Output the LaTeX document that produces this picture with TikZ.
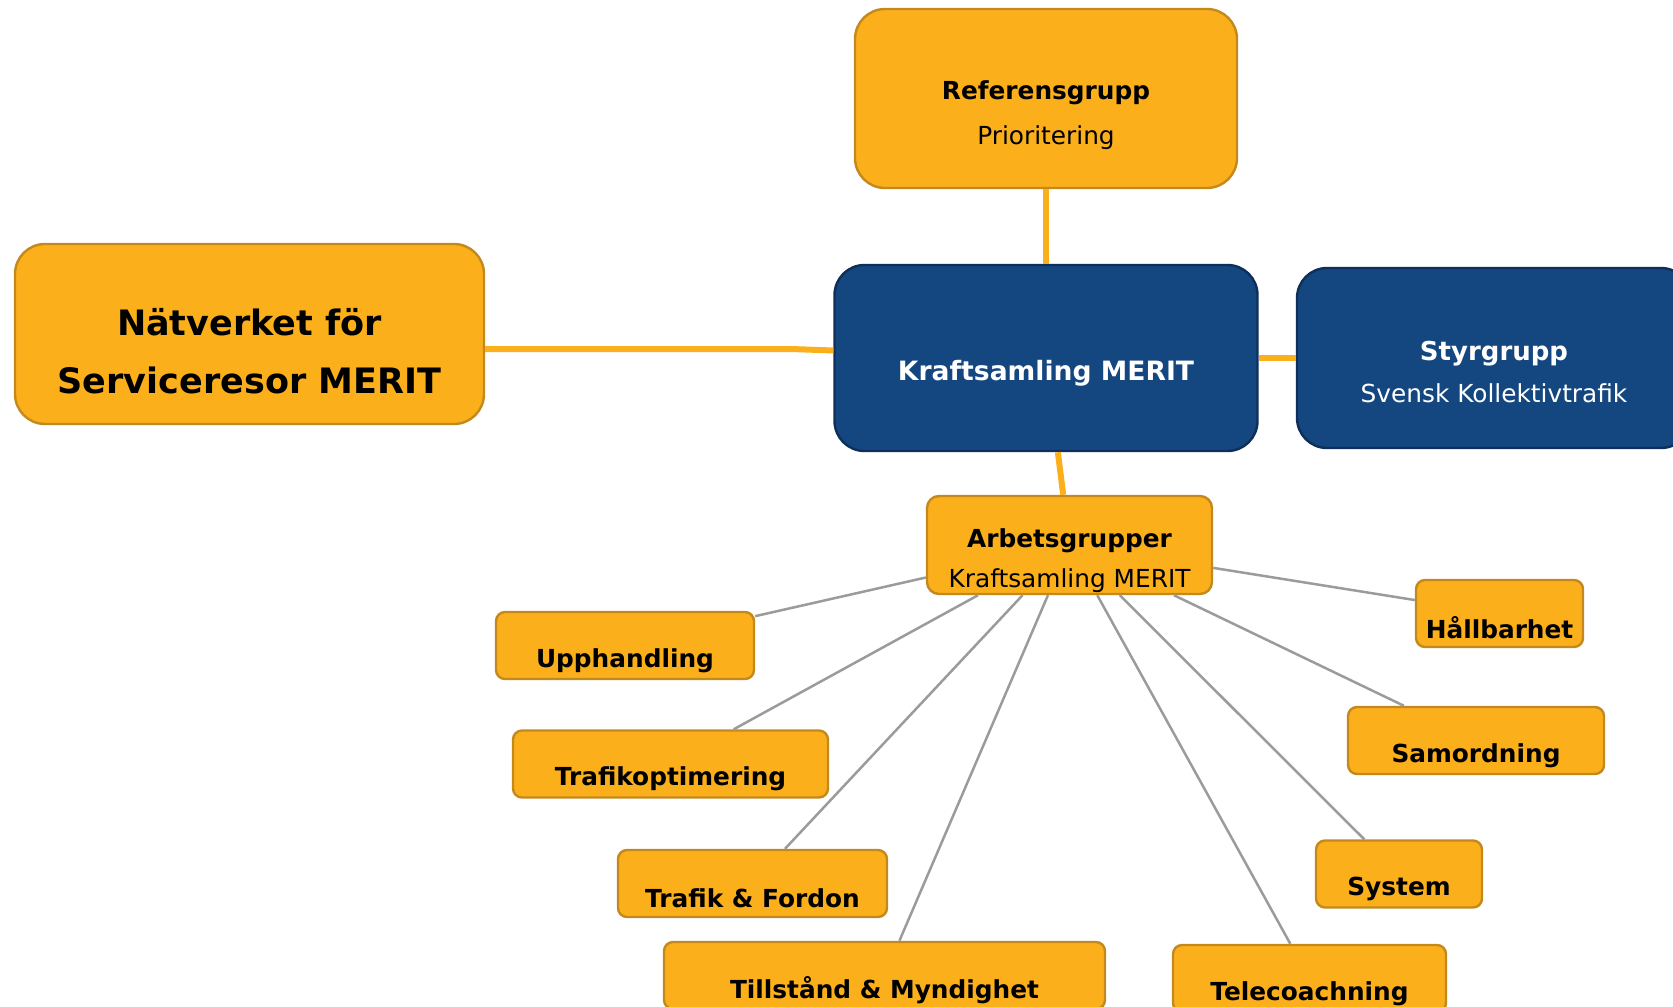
\documentclass[tikz,border=0pt]{standalone}
\usepackage{fontspec}
\setmainfont{DejaVu Sans}
\definecolor{gold}{HTML}{FBAF1A}
\definecolor{golddark}{HTML}{C4891C}
\definecolor{navy}{HTML}{14467F}
\definecolor{navydark}{HTML}{0E2F5A}
\definecolor{linkgray}{HTML}{9B9B9B}

\begin{document}
\begin{tikzpicture}[x=0.5pt,y=-0.5pt,
  goldbox/.style={draw=golddark,fill=gold,line width=1.2pt,rounded corners=4.5pt},
  navybox/.style={draw=navydark,fill=navy,line width=1.2pt,rounded corners=15pt},
  workbox/.style={goldbox,minimum height=33.5pt},
  boxtext/.style={align=center,yshift=-7.5pt,font=\fontsize{12.4}{21}\selectfont},
  worktext/.style={boxtext,font=\fontsize{12.4}{21}\selectfont\bfseries},
  trunk/.style={draw=gold,line width=3pt},
  twig/.style={draw=linkgray,line width=1.25pt}]
  \useasboundingbox (0,0) rectangle (1673,1006);
  % main boxes
  \node[goldbox,rounded corners=15pt,minimum width=191pt,minimum height=89.5pt,
    label={[boxtext,yshift=-1pt,font=\fontsize{12.4}{22.5}\selectfont]center:{\textbf{Referensgrupp}\\Prioritering}}] (ref) at (1046,98.5) {};
  \node[goldbox,rounded corners=15pt,minimum width=234.5pt,minimum height=90pt,
    label={[boxtext,yshift=-1pt,font=\fontsize{17.5}{29}\selectfont\bfseries]center:{Nätverket för\\Serviceresor MERIT}}] (net) at (249.5,334) {};
  \node[navybox,minimum width=211.5pt,minimum height=93pt,
    label={[boxtext,text=white,font=\fontsize{13.3}{21}\selectfont\bfseries]center:Kraftsamling MERIT}] (kraft) at (1046,358) {};
  \node[navybox,minimum width=197pt,minimum height=90pt,
    label={[boxtext,text=white,yshift=0.5pt]center:{\fontsize{13}{21}\selectfont\textbf{Styrgrupp}\\Svensk Kollektivtrafik}}] (styr) at (1494,358) {};
  \node[goldbox,rounded corners=6pt,minimum width=142.5pt,minimum height=49pt,
    label={[boxtext,yshift=-0.5pt,font=\fontsize{12.4}{20}\selectfont]center:{\textbf{Arbetsgrupper}\\Kraftsamling MERIT}}] (arb) at (1069.5,545) {};
  % working groups
  \node[workbox,minimum width=129pt,label={[worktext]center:Upphandling}] (upph) at (625,645.5) {};
  \node[workbox,minimum width=157.5pt,label={[worktext]center:Trafikoptimering}] (trop) at (670.5,764) {};
  \node[workbox,minimum width=134.5pt,label={[worktext]center:Trafik \& Fordon}] (trfo) at (752.5,883.5) {};
  \node[workbox,minimum width=220.5pt,label={[worktext]center:Tillstånd \& Myndighet}] (till) at (884.5,975.5) {};
  \node[workbox,minimum width=136.5pt,label={[worktext]center:Telecoachning}] (tele) at (1309.5,978.5) {};
  \node[workbox,minimum width=83pt,label={[worktext]center:System}] (syst) at (1399,874) {};
  \node[workbox,minimum width=128pt,label={[worktext]center:Samordning}] (samo) at (1476,740.5) {};
  \node[workbox,minimum width=83.5pt,label={[worktext,yshift=0.5pt]center:Hållbarhet}] (hall) at (1499.5,613.5) {};
  % connectors
  \draw[trunk] (ref) -- (kraft);
  \draw[trunk] (kraft) -- (styr);
  \draw[trunk] (kraft) -- (arb);
  \draw[trunk] ([yshift=-7.5pt]net.east) -- ++(153pt,0) -- (kraft);
  \draw[twig] (arb) -- (upph);
  \draw[twig] (arb) -- (trop);
  \draw[twig] (arb) -- (trfo);
  \draw[twig] (arb) -- (till);
  \draw[twig] (arb) -- (tele);
  \draw[twig] (arb) -- (syst);
  \draw[twig] (arb) -- (samo);
  \draw[twig] (arb) -- (hall);
\end{tikzpicture}
\end{document}
